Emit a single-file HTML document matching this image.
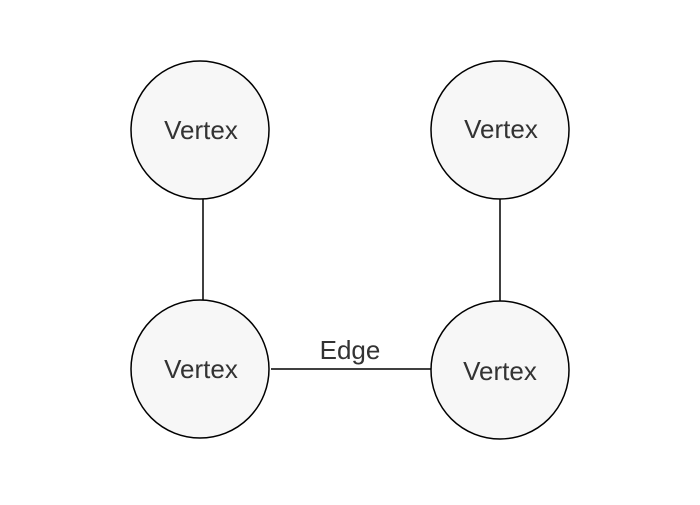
<!DOCTYPE html>
<html><head><style>html,body{margin:0;padding:0;background:#fff;}</style></head>
<body>
<svg width="700" height="500" xmlns="http://www.w3.org/2000/svg">
<rect width="700" height="500" fill="#fff"/>
<g stroke="#000" stroke-width="1.5" fill="none">
<line x1="203" y1="199" x2="203" y2="300"/>
<line x1="500" y1="199" x2="500" y2="301"/>
<line x1="271" y1="369" x2="431" y2="369"/>
</g>
<g fill="#f7f7f7" stroke="#000" stroke-width="1.5">
<circle cx="200" cy="130" r="69"/>
<circle cx="500" cy="130" r="69"/>
<circle cx="200" cy="369" r="69"/>
<circle cx="500" cy="370" r="69"/>
</g>
<g font-family="Liberation Sans, sans-serif" font-size="26" fill="#333" text-anchor="middle">
<text x="201" y="139">Vertex</text>
<text x="501" y="138">Vertex</text>
<text x="201" y="378">Vertex</text>
<text x="500" y="380">Vertex</text>
<text x="350" y="359">Edge</text>
</g>
</svg>
</body></html>
